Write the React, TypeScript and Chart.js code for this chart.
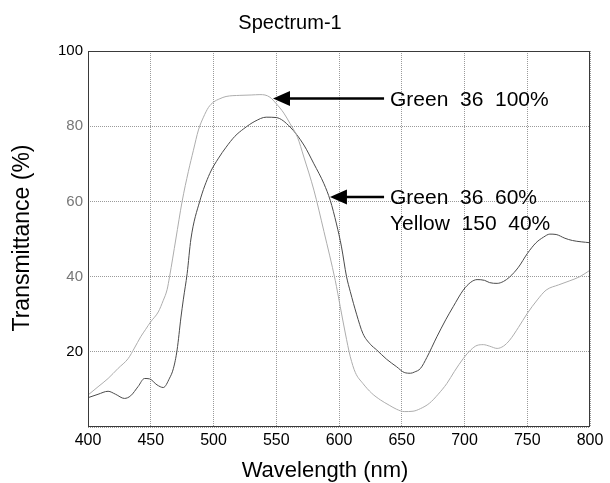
import React, { useEffect, useRef } from "react";
import { Chart, registerables } from "chart.js";

Chart.register(...registerables);

// Green 36 100% (light grey curve)
const lightNm = [400, 408, 416, 424, 432, 437, 442, 446, 450, 456, 460, 463, 465, 470, 475, 480, 484, 488, 492, 496, 500, 505, 510, 521, 530, 537, 541, 545, 550, 556, 561, 567, 572, 580, 588, 597, 601, 605, 609, 613, 619, 626, 633, 640, 646, 652, 659, 665, 672, 679, 686, 692, 699, 705, 710, 715, 720, 726, 731, 736, 743, 750, 758, 765, 775, 784, 792, 800];
const lightPct = [8.5, 10.7, 12.9, 15.6, 18.2, 21.0, 24.0, 26.0, 28.0, 30.6, 33.7, 36.5, 40.0, 50.0, 60.0, 68.0, 73.6, 79.0, 82.4, 85.0, 86.4, 87.3, 87.9, 88.2, 88.3, 88.4, 88.3, 87.7, 86.0, 83.5, 80.7, 77.0, 71.8, 63.0, 52.0, 39.0, 32.0, 25.0, 18.7, 14.5, 11.6, 9.0, 7.2, 5.8, 4.7, 4.1, 4.2, 4.9, 6.3, 8.7, 11.6, 14.8, 18.2, 20.5, 21.7, 21.9, 21.5, 20.9, 21.5, 23.1, 26.5, 30.2, 33.8, 36.4, 37.8, 38.9, 40.0, 41.7];

// Green 36 60% + Yellow 150 40% (dark grey curve)
const darkNm = [400, 408, 416, 422, 429, 434, 440, 445, 449, 455, 460, 465, 468, 471, 474, 476, 479, 482, 489, 497, 504, 510, 517, 524, 533, 542, 550, 561, 572, 580, 588, 593, 598, 602, 606, 609, 614, 619, 625, 630, 638, 646, 652, 657, 660, 665, 670, 678, 685, 691, 699, 705, 710, 716, 720, 726, 731, 736, 743, 750, 757, 763, 768, 773, 780, 786, 800];
const darkPct = [7.8, 8.7, 9.5, 8.7, 7.6, 8.3, 10.8, 12.9, 12.8, 11.2, 10.5, 13.0, 15.5, 20.5, 29.0, 34.0, 40.8, 50.0, 60.0, 67.4, 71.5, 74.4, 77.3, 79.3, 81.3, 82.4, 82.3, 79.8, 75.0, 70.0, 64.7, 60.3, 54.0, 47.9, 40.0, 36.0, 30.0, 24.9, 22.0, 20.5, 18.0, 16.0, 14.5, 14.3, 14.6, 15.6, 18.5, 24.0, 28.5, 32.0, 36.4, 38.5, 39.2, 39.0, 38.4, 38.2, 38.7, 39.9, 42.5, 46.1, 49.0, 50.5, 51.3, 51.2, 50.2, 49.6, 49.0];

const xMin = 400;
const xMax = 800;
const xStep = 50;
const yMin = 0;
const yMax = 100;
const yStep = 20;
const fadedYTicks = [40, 60, 80];

const titleText = "Spectrum-1";
const xTitle = "Wavelength (nm)";
const yTitle = "Transmittance (%)";

// annotations (in data units)
const arrowTipNm = [547.4, 592.8];
const arrowTipPct = [87.4, 61.2];
const arrowTailNm = 635.9;
const labelNm = 640.6;
const labelTexts = ["Green  36  100%", "Green  36  60%", "Yellow  150  40%"];
const labelPct = [85.5, 59.4, 52.3];

const FONT = '"Liberation Sans", Arial, Helvetica, sans-serif';

const overlayPlugin = {
  id: "overlay",
  afterDatasetsDraw(chart: any) {
    const { ctx, chartArea } = chart;
    const xs = chart.scales.x;
    const ys = chart.scales.y;
    ctx.save();
    // frame
    ctx.strokeStyle = "#3a3a3a";
    ctx.lineWidth = 1;
    ctx.setLineDash([]);
    ctx.strokeRect(
      chartArea.left + 0.5,
      chartArea.top + 0.5,
      chartArea.right - chartArea.left - 1,
      chartArea.bottom - chartArea.top - 1
    );
    // arrows
    for (let i = 0; i < arrowTipNm.length; i++) {
      const tx = xs.getPixelForValue(arrowTipNm[i]);
      const ty = ys.getPixelForValue(arrowTipPct[i]);
      const ex = xs.getPixelForValue(arrowTailNm);
      ctx.strokeStyle = "#000";
      ctx.fillStyle = "#000";
      ctx.lineWidth = 2.5;
      ctx.beginPath();
      ctx.moveTo(tx + 14, ty);
      ctx.lineTo(ex, ty);
      ctx.stroke();
      ctx.beginPath();
      ctx.moveTo(tx, ty);
      ctx.lineTo(tx + 17, ty - 7.5);
      ctx.lineTo(tx + 17, ty + 7.5);
      ctx.closePath();
      ctx.fill();
    }
    // labels
    ctx.font = `21px ${FONT}`;
    ctx.fillStyle = "#000";
    ctx.textAlign = "left";
    ctx.textBaseline = "alphabetic";
    const lx = xs.getPixelForValue(labelNm);
    for (let i = 0; i < labelTexts.length; i++) {
      ctx.fillText(labelTexts[i], lx, ys.getPixelForValue(labelPct[i]));
    }
    // titles
    ctx.textAlign = "center";
    ctx.font = `20px ${FONT}`;
    ctx.fillText(titleText, 290, 29);
    ctx.font = `22px ${FONT}`;
    ctx.fillText(xTitle, 325, 477);
    ctx.translate(29, 238);
    ctx.rotate(-Math.PI / 2);
    ctx.font = `23px ${FONT}`;
    ctx.fillText(yTitle, 0, 0);
    ctx.restore();
  },
};

export default function App() {
  const ref = useRef<HTMLCanvasElement>(null);
  useEffect(() => {
    if (!ref.current) return;
    const chart = new Chart(ref.current, {
      type: "line",
      data: {
        datasets: [
          {
            label: "Green 36 100%",
            data: lightNm.map((x, i) => ({ x, y: lightPct[i] })),
            borderColor: "#adadad",
            borderWidth: 1,
            pointRadius: 0,
            cubicInterpolationMode: "monotone",
            fill: false,
          },
          {
            label: "Green 36 60% / Yellow 150 40%",
            data: darkNm.map((x, i) => ({ x, y: darkPct[i] })),
            borderColor: "#4a4a4a",
            borderWidth: 1,
            pointRadius: 0,
            cubicInterpolationMode: "monotone",
            fill: false,
          },
        ],
      },
      options: {
        responsive: false,
        animation: false,
        devicePixelRatio: 1,
        layout: { padding: { top: 51, right: 20, left: 0, bottom: 0 } },
        plugins: {
          legend: { display: false },
          title: { display: false },
          tooltip: { enabled: false },
        },
        scales: {
          x: {
            type: "linear",
            min: xMin,
            max: xMax,
            afterFit: (s: any) => {
              s.height = 56;
            },
            ticks: {
              stepSize: xStep,
              padding: 4,
              color: "#000",
              font: { family: FONT, size: 16 },
              maxRotation: 0,
            },
            grid: { color: "#9a9a9a", lineWidth: 1, drawTicks: false },
            border: { display: false, dash: [1, 1] },
          },
          y: {
            type: "linear",
            min: yMin,
            max: yMax,
            afterFit: (s: any) => {
              s.width = 88;
            },
            ticks: {
              stepSize: yStep,
              padding: 5,
              color: (c: any) =>
                fadedYTicks.includes(c.tick && c.tick.value) ? "#777" : "#000",
              font: { family: FONT, size: 15 },
              callback: (v: any) => (v === 0 ? "" : String(v)),
            },
            grid: { color: "#9a9a9a", lineWidth: 1, drawTicks: false },
            border: { display: false, dash: [1, 1] },
          },
        },
      },
      plugins: [overlayPlugin],
    } as any);
    return () => chart.destroy();
  }, []);
  return (
    <div style={{ position: "absolute", left: 0, top: 0, width: 610, height: 483, background: "#fff" }}>
      <canvas ref={ref} width={610} height={483} />
    </div>
  );
}
